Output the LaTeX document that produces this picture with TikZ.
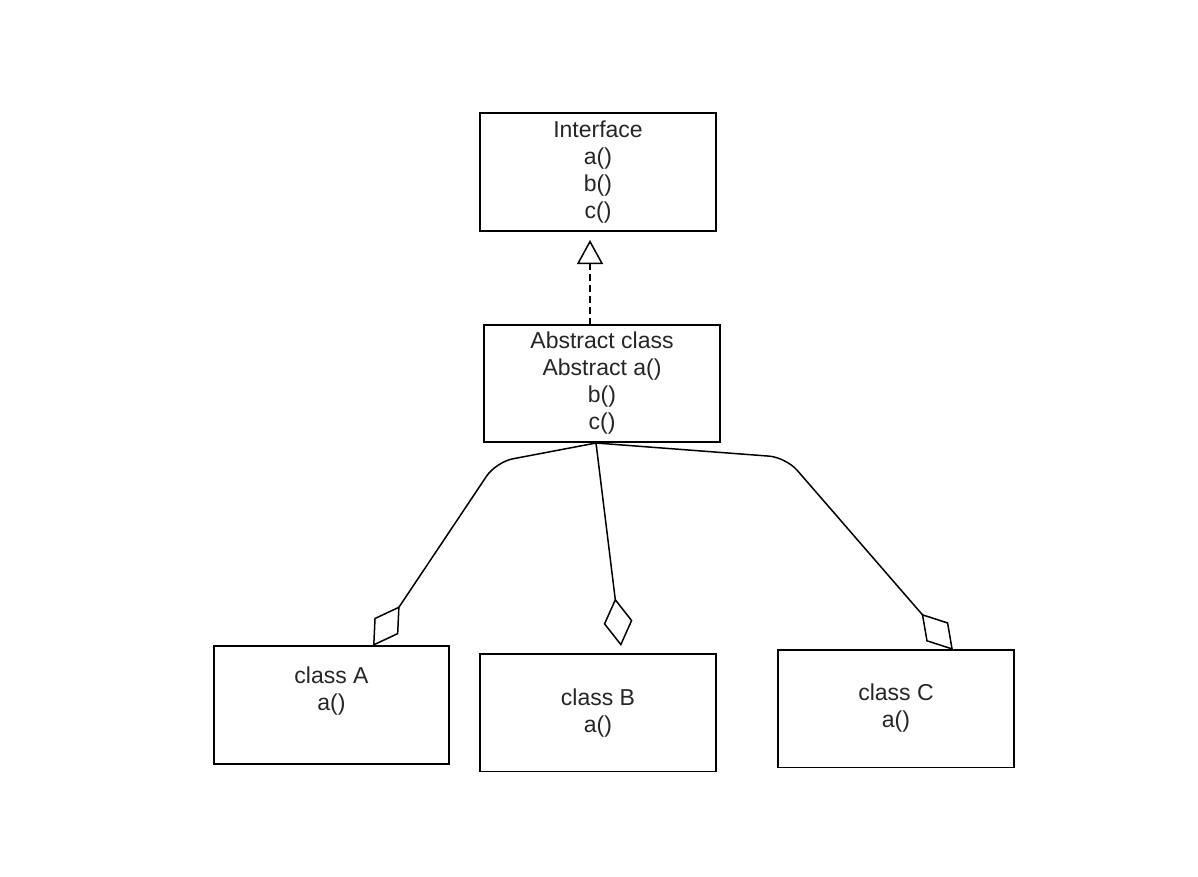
\documentclass[tikz,border=0pt]{standalone}
\usepackage{fontspec}
\setmainfont{Liberation Sans}
\usetikzlibrary{arrows.meta}
\newcommand\lnstrut{\rule[-5.2pt]{0pt}{21.8pt}}
\begin{document}
\begin{tikzpicture}[x=1pt,y=-1pt,
  umlbox/.style={draw=black, line width=1.8pt, inner sep=0pt, outer sep=0pt,
    minimum width=236pt, minimum height=118pt, align=center,
    font=\fontsize{23}{27}\selectfont, text=black!85},
  conn/.style={draw=black, line width=1.5pt},
  realize/.style={conn, dash pattern=on 7pt off 4pt,
    -{Triangle[open, length=24pt, width=26pt, line width=1.5pt]}},
  aggr/.style={conn, rounded corners=17pt,
    -{Diamond[open, length=48pt, width=29pt, line width=1.5pt]}}]
\useasboundingbox[fill=white] (0,0) rectangle (1198,876);

\node[umlbox] (iface) at (598,172)
  {\lnstrut Interface\\\lnstrut a()\\\lnstrut b()\\\lnstrut c()};
\node[umlbox, minimum height=117pt] (abs) at (602,383.5)
  {\lnstrut Abstract class\\\lnstrut Abstract a()\\\lnstrut b()\\\lnstrut c()};
\node[umlbox, minimum width=235pt] (ca) at (331.5,705)
  {\lnstrut class A\\\lnstrut a()\\\lnstrut};
\node[umlbox, minimum height=117.5pt] (cb) at (598,712.8)
  {\lnstrut class B\\\lnstrut a()};
\node[umlbox, minimum height=117.5pt] (cc) at (896,708.7)
  {\lnstrut class C\\\lnstrut a()};

% realization
\coordinate (rtip) at (590,240);
\draw[realize] (abs.north -| rtip) -- (rtip);

% aggregations
\coordinate (src) at (596,443);
\coordinate (ka) at (496,462);
\coordinate (ta) at (373,646);
\coordinate (tb) at (621,646);
\coordinate (kc) at (786,457.4);
\coordinate (tc) at (953,650);
\draw[aggr] (src) -- (ka) -- (ta);
\draw[aggr] (src) -- (tb);
\draw[aggr] (src) -- (kc) -- (tc);
\end{tikzpicture}
\end{document}
